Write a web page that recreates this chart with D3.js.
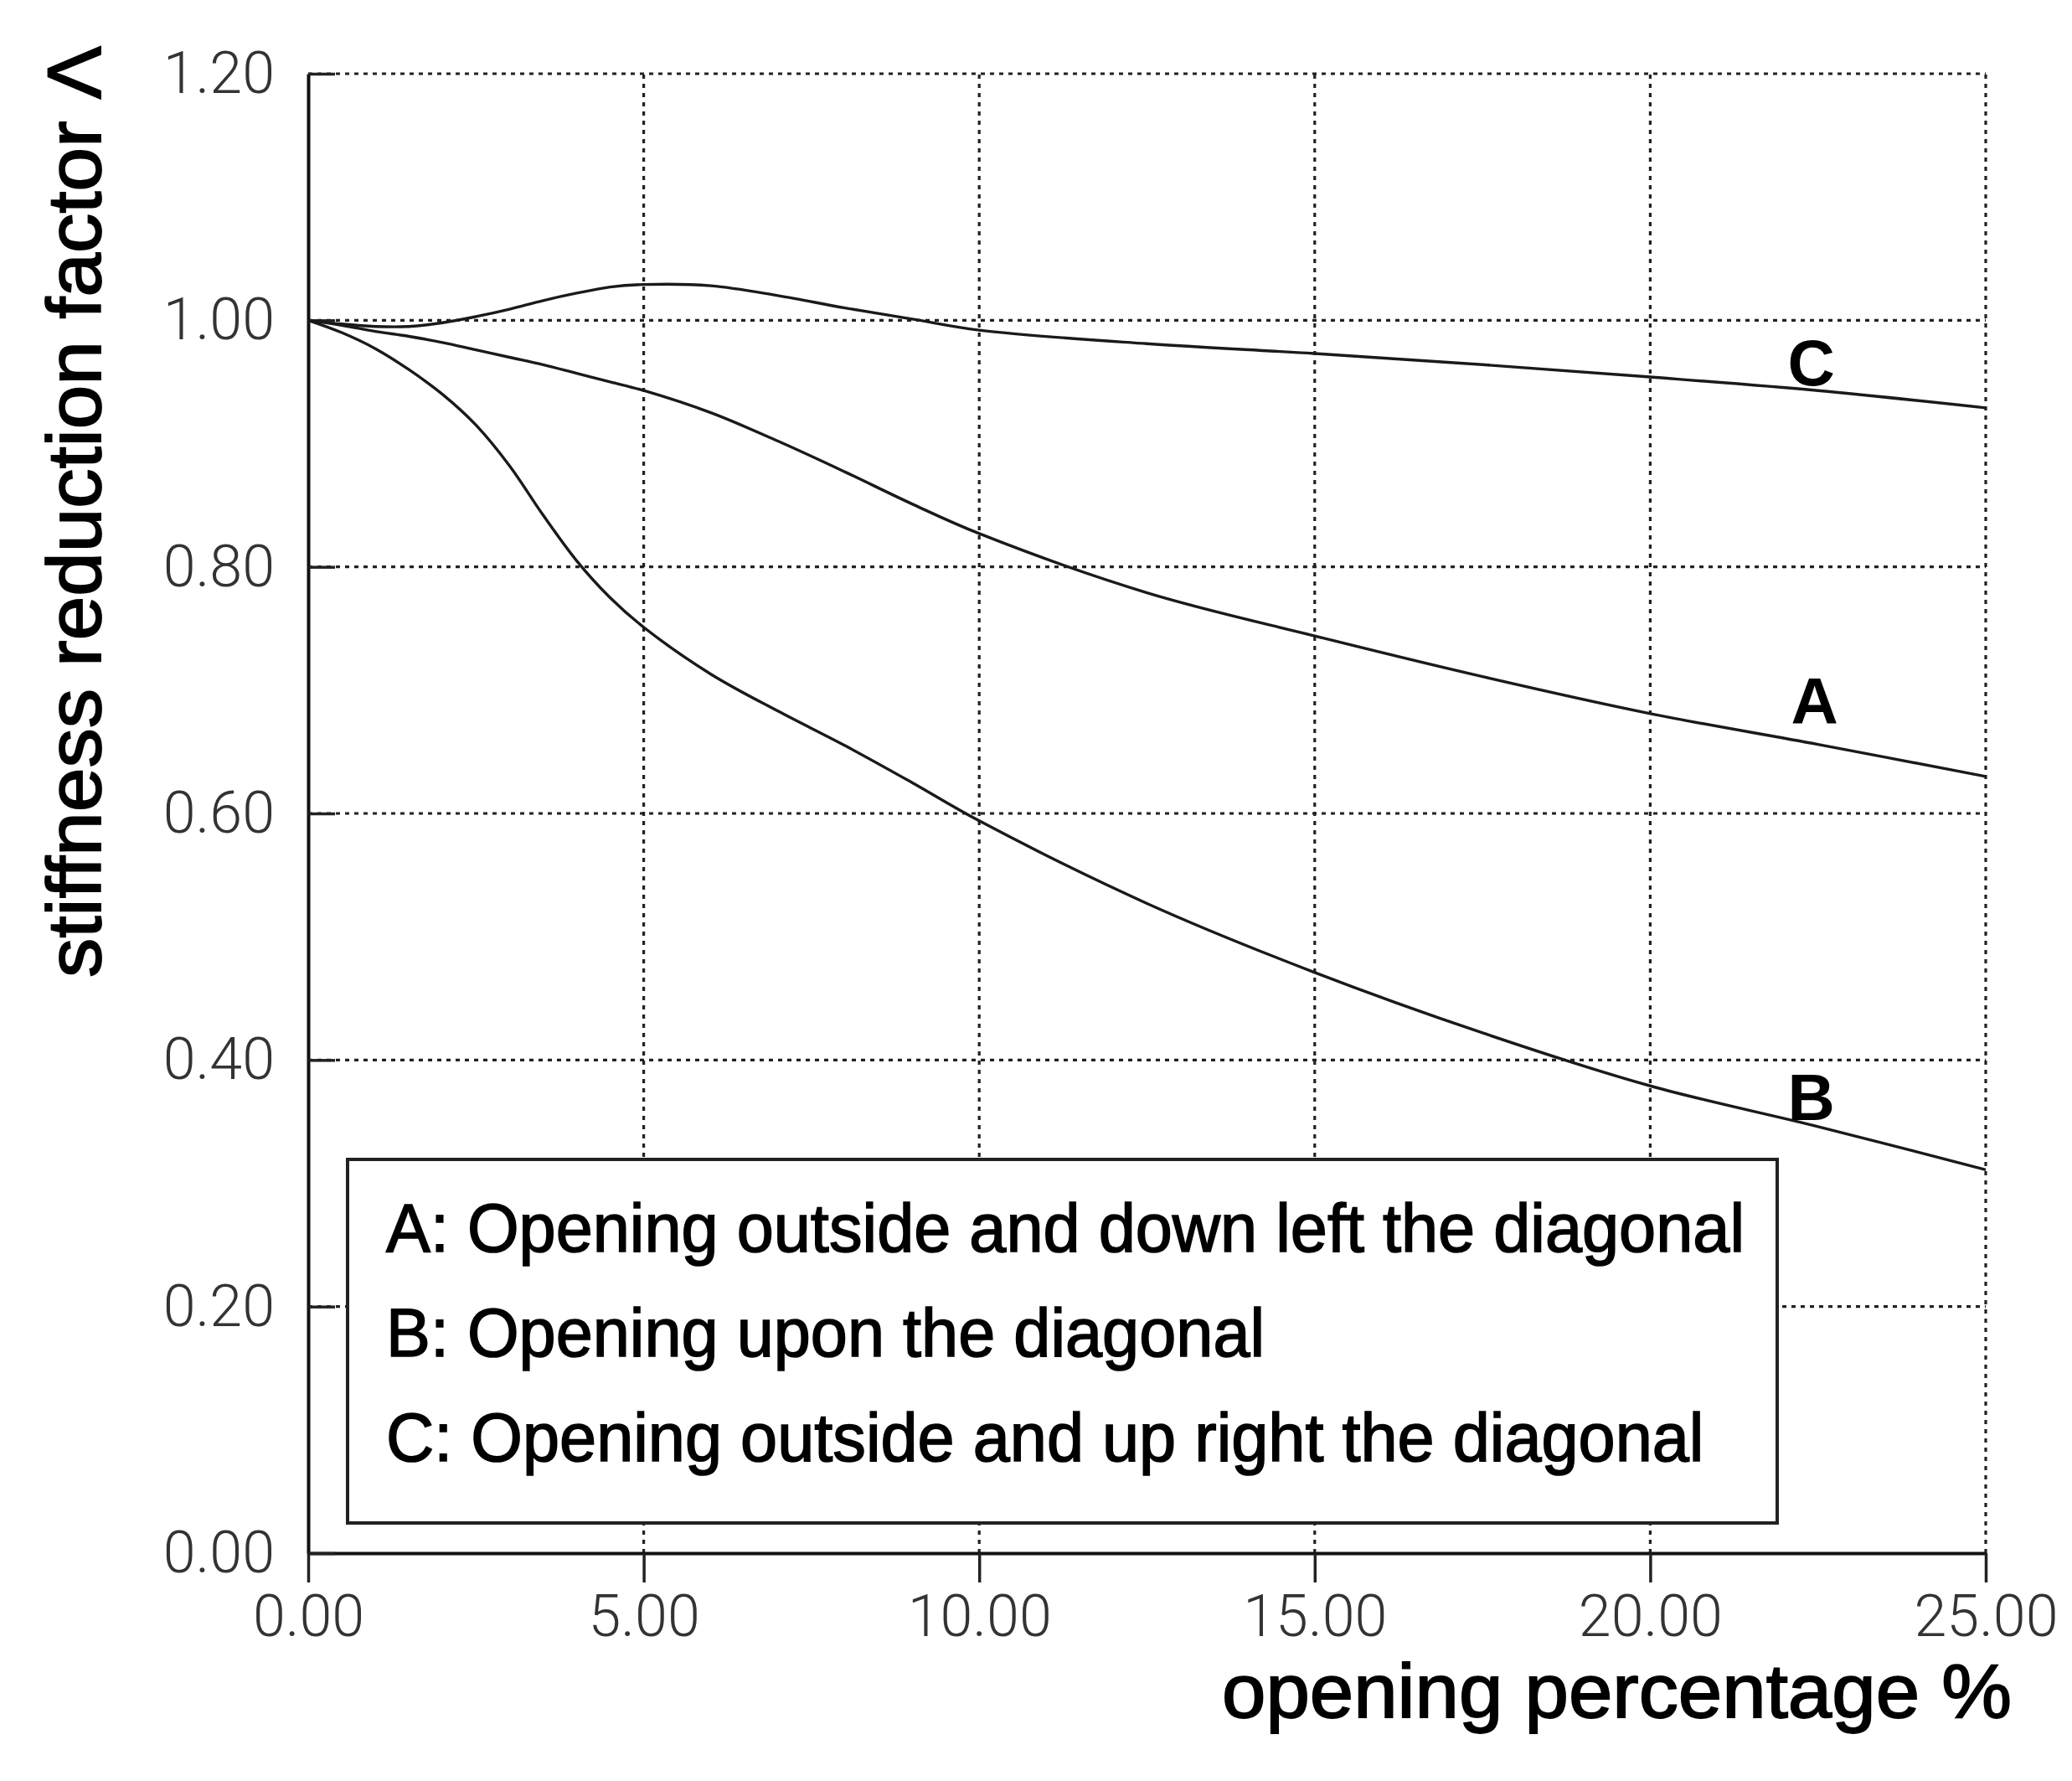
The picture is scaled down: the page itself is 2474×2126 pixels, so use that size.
<!DOCTYPE html>
<html>
<head>
<meta charset="utf-8">
<script src="https://cdn.jsdelivr.net/npm/d3@7"></script>
<style>
  body { margin: 0; background: #fff; }
  text { font-family: "Liberation Sans", Arial, sans-serif; }
</style>
</head>
<body>
<div id="chart"></div>
<script>
// opening percentage (%)
const openings = [0, 0.5, 1, 1.5, 2, 2.5, 3, 3.5, 4, 4.5, 5, 6, 7, 8, 9, 10, 12.5, 15, 17.5, 20, 22.5, 25];
// stiffness reduction factor for each case
const seriesA = [1.000, 0.996, 0.991, 0.987, 0.982, 0.976, 0.970, 0.964, 0.957, 0.950, 0.943, 0.925, 0.902, 0.877, 0.851, 0.827, 0.779, 0.744, 0.711, 0.681, 0.656, 0.630];
const seriesB = [1.000, 0.990, 0.977, 0.960, 0.940, 0.915, 0.882, 0.842, 0.805, 0.775, 0.751, 0.713, 0.683, 0.655, 0.625, 0.594, 0.527, 0.471, 0.422, 0.379, 0.346, 0.311];
const seriesC = [1.000, 0.997, 0.995, 0.995, 0.998, 1.003, 1.009, 1.016, 1.022, 1.027, 1.029, 1.028, 1.020, 1.010, 1.001, 0.992, 0.981, 0.973, 0.964, 0.954, 0.943, 0.929];

const xTicks = [0, 5, 10, 15, 20, 25];
const yTicks = [0, 0.2, 0.4, 0.6, 0.8, 1.0, 1.2];

const curveNames = ["A", "B", "C"];
// where the letter sits next to each curve (data units)
const curveLabelX = [22.45, 22.4, 22.4];
const curveLabelY = [0.673, 0.351, 0.947];

const legendLines = [
  "A: Opening outside and down left the diagonal",
  "B: Opening upon the diagonal",
  "C: Opening outside and up right the diagonal"
];

const xTitle = "opening percentage %";
const yTitle = "stiffness reduction factor \u039B";

const width = 2474, height = 2126;
const margin = {left: 368, right: 103, top: 88, bottom: 272};

const x = d3.scaleLinear().domain([0, 25]).range([margin.left, width - margin.right]);
const y = d3.scaleLinear().domain([0, 1.2]).range([height - margin.bottom, margin.top]);

const svg = d3.select("#chart").append("svg")
  .attr("width", width)
  .attr("height", height)
  .attr("viewBox", [0, 0, width, height])
  .style("background", "#fff");

// dotted grid
const grid = svg.append("g")
  .attr("stroke", "#222")
  .attr("stroke-width", 3.2)
  .attr("stroke-dasharray", "5,6");

grid.selectAll(".vg")
  .data(xTicks.filter(d => d > 0))
  .join("line")
    .attr("class", "vg")
    .attr("x1", d => x(d)).attr("x2", d => x(d))
    .attr("y1", y(0)).attr("y2", y(1.2));

grid.selectAll(".hg")
  .data(yTicks.filter(d => d > 0))
  .join("line")
    .attr("class", "hg")
    .attr("x1", x(0)).attr("x2", x(25))
    .attr("y1", d => y(d)).attr("y2", d => y(d));

// axes
const xAxis = svg.append("g")
  .attr("transform", `translate(0,${y(0)})`)
  .call(d3.axisBottom(x).tickValues(xTicks).tickFormat(d3.format(".2f"))
    .tickSize(35).tickSizeOuter(0).tickPadding(14));

const yAxis = svg.append("g")
  .attr("transform", `translate(${x(0)},0)`)
  .call(d3.axisLeft(y).tickValues(yTicks).tickFormat(d3.format(".2f"))
    .tickSize(-32).tickSizeOuter(0).tickPadding(40));

[xAxis, yAxis].forEach(ax => {
  ax.select(".domain").attr("stroke", "#111").attr("stroke-width", 4);
  ax.selectAll(".tick line").attr("stroke", "#222").attr("stroke-width", 3.5);
  ax.selectAll(".tick text")
    .attr("fill", "#333")
    .style("font-size", "70px")
    .style("font-weight", "300")
    .style("font-family", "Roboto, 'Liberation Sans', Arial, sans-serif");
});

// legend box
const box = {x0: 415, y0: 1384, x1: 2122, y1: 1818};
svg.append("rect")
  .attr("x", box.x0).attr("y", box.y0)
  .attr("width", box.x1 - box.x0).attr("height", box.y1 - box.y0)
  .attr("fill", "#fff")
  .attr("stroke", "#222")
  .attr("stroke-width", 4);

const legendText = svg.append("g").selectAll("text")
  .data(legendLines)
  .join("text")
    .attr("x", 461)
    .attr("y", (d, i) => 1494 + i * 125)
    .attr("fill", "#000")
    .attr("stroke", "#000")
    .attr("stroke-width", 1.6)
    .style("font-size", "82px")
    .text(d => d);

// squeeze legend lines the same amount so line A fits the box
const natA = legendText.nodes()[0].getComputedTextLength();
const squeeze = 1622 / natA;
legendText.each(function() {
  const w = this.getComputedTextLength();
  d3.select(this).attr("textLength", w * squeeze).attr("lengthAdjust", "spacingAndGlyphs");
});

// curves
const line = d3.line()
  .x(d => x(d[0]))
  .y(d => y(d[1]))
  .curve(d3.curveCatmullRom.alpha(0.5));

const allSeries = [seriesA, seriesB, seriesC];
svg.append("g")
  .attr("fill", "none")
  .attr("stroke", "#1a1a1a")
  .attr("stroke-width", 3.4)
  .selectAll("path")
  .data(allSeries)
  .join("path")
    .attr("d", s => line(openings.map((o, i) => [o, s[i]])));

svg.append("g").selectAll("text")
  .data(curveNames)
  .join("text")
    .attr("x", (d, i) => x(curveLabelX[i]))
    .attr("y", (d, i) => y(curveLabelY[i]))
    .attr("text-anchor", "middle")
    .attr("fill", "#000")
    .style("font-size", "78px")
    .style("font-weight", "bold")
    .text(d => d);

// axis titles
svg.append("text")
  .attr("x", 1459)
  .attr("y", 2050)
  .attr("fill", "#000")
  .attr("stroke", "#000")
  .attr("stroke-width", 1.8)
  .style("font-size", "90px")
  .attr("textLength", 943)
  .attr("lengthAdjust", "spacingAndGlyphs")
  .text(xTitle);

svg.append("text")
  .attr("transform", "translate(120,611) rotate(-90)")
  .attr("text-anchor", "middle")
  .attr("fill", "#000")
  .attr("stroke", "#000")
  .attr("stroke-width", 1.8)
  .style("font-size", "90px")
  .attr("textLength", 1112)
  .attr("lengthAdjust", "spacingAndGlyphs")
  .text(yTitle);
</script>
</body>
</html>
